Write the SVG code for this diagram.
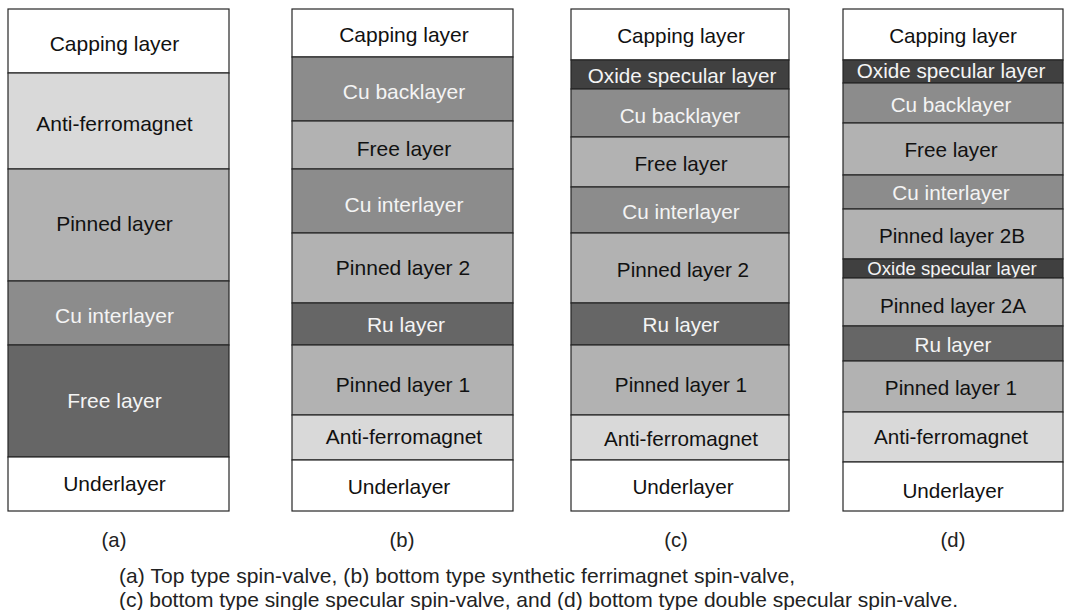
<svg xmlns="http://www.w3.org/2000/svg" width="1069" height="610" viewBox="0 0 1069 610">
<style>
rect{stroke:#262626;stroke-width:1.2}
text{font-family:"Liberation Sans",Arial,sans-serif;font-size:20.7px;text-anchor:middle;fill:#111}
#stack-a text,#stack-b text{font-size:21px}
.w{fill:#fff}.l{fill:#d9d9d9}.m{fill:#b2b2b2}.c{fill:#8c8c8c}.r{fill:#666}.o{fill:#404040}
text.t{fill:#f4f4f4}
text.s{font-size:18.6px}
text.cap{font-size:21px;text-anchor:start;fill:#222}
text.lab{font-size:20.3px;fill:#222}
</style>
<rect width="1069" height="610" style="fill:#fff;stroke:none"/>
<g id="stack-a">
<g id="a-capping"><rect class="w" x="8" y="9" width="221" height="64"/><text x="114.5" y="51">Capping layer</text></g>
<g id="a-afm"><rect class="l" x="8" y="73" width="221" height="96"/><text x="114.5" y="131">Anti-ferromagnet</text></g>
<g id="a-pinned"><rect class="m" x="8" y="169" width="221" height="112"/><text x="114.5" y="231">Pinned layer</text></g>
<g id="a-cu"><rect class="c" x="8" y="281" width="221" height="64"/><text class="t" x="114.5" y="323">Cu interlayer</text></g>
<g id="a-free"><rect class="r" x="8" y="345" width="221" height="112"/><text class="t" x="114.5" y="408">Free layer</text></g>
<g id="a-under"><rect class="w" x="8" y="457" width="221" height="54"/><text x="114.5" y="491">Underlayer</text></g>
</g>
<g id="stack-b">
<g id="b-capping"><rect class="w" x="292" y="9" width="221" height="48"/><text x="404" y="42">Capping layer</text></g>
<g id="b-cuback"><rect class="c" x="292" y="57" width="221" height="64"/><text class="t" x="404" y="99">Cu backlayer</text></g>
<g id="b-free"><rect class="m" x="292" y="121" width="221" height="48"/><text x="404" y="156">Free layer</text></g>
<g id="b-cu"><rect class="c" x="292" y="169" width="221" height="64"/><text class="t" x="404" y="212">Cu interlayer</text></g>
<g id="b-pinned2"><rect class="m" x="292" y="233" width="221" height="70"/><text x="403" y="275">Pinned layer 2</text></g>
<g id="b-ru"><rect class="r" x="292" y="303" width="221" height="42"/><text class="t" x="406" y="332">Ru layer</text></g>
<g id="b-pinned1"><rect class="m" x="292" y="345" width="221" height="70"/><text x="403" y="392">Pinned layer 1</text></g>
<g id="b-afm"><rect class="l" x="292" y="415" width="221" height="45"/><text x="404" y="444">Anti-ferromagnet</text></g>
<g id="b-under"><rect class="w" x="292" y="460" width="221" height="51"/><text x="399" y="494">Underlayer</text></g>
</g>
<g id="stack-c">
<g id="c-capping"><rect class="w" x="571" y="9" width="218" height="51"/><text x="681" y="43">Capping layer</text></g>
<g id="c-oxide"><rect class="o" x="571" y="60" width="218" height="29"/><text class="t" x="682" y="83">Oxide specular layer</text></g>
<g id="c-cuback"><rect class="c" x="571" y="89" width="218" height="48"/><text class="t" x="680" y="123">Cu backlayer</text></g>
<g id="c-free"><rect class="m" x="571" y="137" width="218" height="50"/><text x="681" y="171">Free layer</text></g>
<g id="c-cu"><rect class="c" x="571" y="187" width="218" height="46"/><text class="t" x="681" y="219">Cu interlayer</text></g>
<g id="c-pinned2"><rect class="m" x="571" y="233" width="218" height="70"/><text x="683" y="277">Pinned layer 2</text></g>
<g id="c-ru"><rect class="r" x="571" y="303" width="218" height="42"/><text class="t" x="681" y="332">Ru layer</text></g>
<g id="c-pinned1"><rect class="m" x="571" y="345" width="218" height="70"/><text x="681" y="392">Pinned layer 1</text></g>
<g id="c-afm"><rect class="l" x="571" y="415" width="218" height="45"/><text x="681" y="446">Anti-ferromagnet</text></g>
<g id="c-under"><rect class="w" x="571" y="460" width="218" height="51"/><text x="683" y="494">Underlayer</text></g>
</g>
<g id="stack-d">
<g id="d-capping"><rect class="w" x="843" y="9" width="220" height="51"/><text x="953" y="43">Capping layer</text></g>
<g id="d-oxide1"><rect class="o" x="843" y="60" width="220" height="23"/><text class="t" x="951" y="78">Oxide specular layer</text></g>
<g id="d-cuback"><rect class="c" x="843" y="83" width="220" height="40"/><text class="t" x="951" y="112">Cu backlayer</text></g>
<g id="d-free"><rect class="m" x="843" y="123" width="220" height="52"/><text x="951" y="157">Free layer</text></g>
<g id="d-cu"><rect class="c" x="843" y="175" width="220" height="34"/><text class="t" x="951" y="200">Cu interlayer</text></g>
<g id="d-pinned2b"><rect class="m" x="843" y="209" width="220" height="50"/><text x="952" y="243">Pinned layer 2B</text></g>
<g id="d-oxide2"><rect class="o" x="843" y="259" width="220" height="19"/><text class="t s" x="952" y="275">Oxide specular layer</text></g>
<g id="d-pinned2a"><rect class="m" x="843" y="278" width="220" height="48"/><text x="953" y="313">Pinned layer 2A</text></g>
<g id="d-ru"><rect class="r" x="843" y="326" width="220" height="35"/><text class="t" x="953" y="352">Ru layer</text></g>
<g id="d-pinned1"><rect class="m" x="843" y="361" width="220" height="51"/><text x="951" y="395">Pinned layer 1</text></g>
<g id="d-afm"><rect class="l" x="843" y="412" width="220" height="50"/><text x="951" y="444">Anti-ferromagnet</text></g>
<g id="d-under"><rect class="w" x="843" y="462" width="220" height="49"/><text x="953" y="498">Underlayer</text></g>
</g>
<g id="connectors"/>
<g id="labels">
<text class="lab" x="114" y="547">(a)</text>
<text class="lab" x="402" y="547">(b)</text>
<text class="lab" x="676" y="547">(c)</text>
<text class="lab" x="953" y="547">(d)</text>
<text class="cap" x="119" y="583" textLength="676">(a) Top type spin-valve, (b) bottom type synthetic ferrimagnet spin-valve,</text>
<text class="cap" x="119" y="607" textLength="839">(c) bottom type single specular spin-valve, and (d) bottom type double specular spin-valve.</text>
</g>
</svg>
